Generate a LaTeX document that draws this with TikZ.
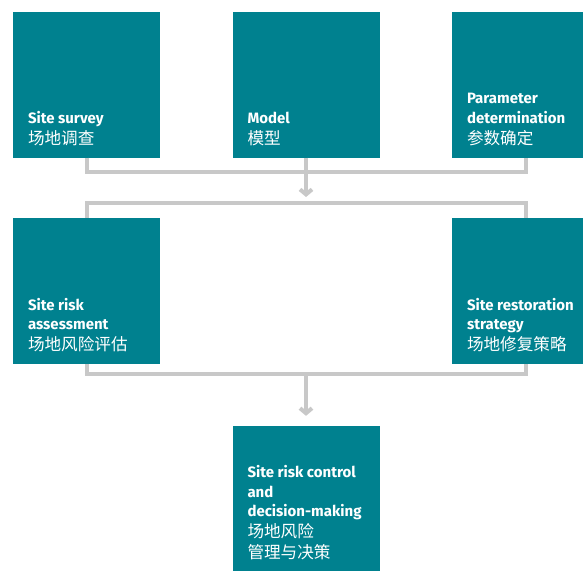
\documentclass[tikz,border=0pt]{standalone}
\usepackage{fontspec}
\setmainfont{Fira Sans}
\newfontfamily\cjk{Noto Sans CJK SC}
\usetikzlibrary{arrows.meta}

\definecolor{boxteal}{HTML}{00818F}
\definecolor{linegray}{HTML}{C8C8C8}

\tikzset{
  stage/.style={fill=boxteal, minimum width=147pt, minimum height=146pt, inner sep=0pt},
  caption/.style={anchor=south west, align=left, text=white, inner sep=0pt,
    xshift=15pt, yshift=12pt, font=\fontsize{15}{19.5}\selectfont\bfseries},
  link/.style={draw=linegray, line width=4pt},
  flow/.style={link, -{Straight Barb[length=5pt,width=12pt]}}
}
\newcommand{\zh}[1]{{\cjk\mdseries\fontsize{16.6}{21}\selectfont #1}}

\begin{document}
\begin{tikzpicture}[x=1pt,y=-1pt]
\useasboundingbox (0,0) rectangle (583,570);
\clip (0,0) rectangle (583,570);

% first row
\node[stage] (survey) at (86.5,84.5) {};
\node[stage] (model) at (306,84.5) {};
\node[stage] (param) at (525.5,84.5) {};
% second row
\node[stage] (riskas) at (86.5,291) {};
\node[stage] (restore) at (525.5,291) {};
% result
\node[stage] (control) at (306,499) {};

\node[caption] at (survey.south west) {Site survey\\[1.5pt]\zh{场地调查}};
\node[caption] at (model.south west) {Model\\[1.5pt]\zh{模型}};
\node[caption] at (param.south west) {Parameter\\determination\\[1.5pt]\zh{参数确定}};
\node[caption] at (riskas.south west) {Site risk\\assessment\\[1.5pt]\zh{场地风险评估}};
\node[caption] at (restore.south west) {Site restoration\\strategy\\[1.5pt]\zh{场地修复策略}};
\node[caption] at (control.south west) {Site risk control\\and\\decision-making\\[1.5pt]\zh{场地风险}\\[1.5pt]\zh{管理与决策}};

% joining bars
\coordinate (merge) at (306,172);
\coordinate (split) at (306,203);
\coordinate (merge2) at (306,374);

\draw[link] (survey.south) |- (merge) -| (param.south);
\draw[link] (riskas.north) |- (split) -| (restore.north);
\draw[flow] (model.south) -- ([yshift=6pt]split);

\draw[link] (riskas.south) |- (merge2) -| (restore.south);
\draw[flow] (merge2) -- ([yshift=10pt]control.north);
\end{tikzpicture}
\end{document}
